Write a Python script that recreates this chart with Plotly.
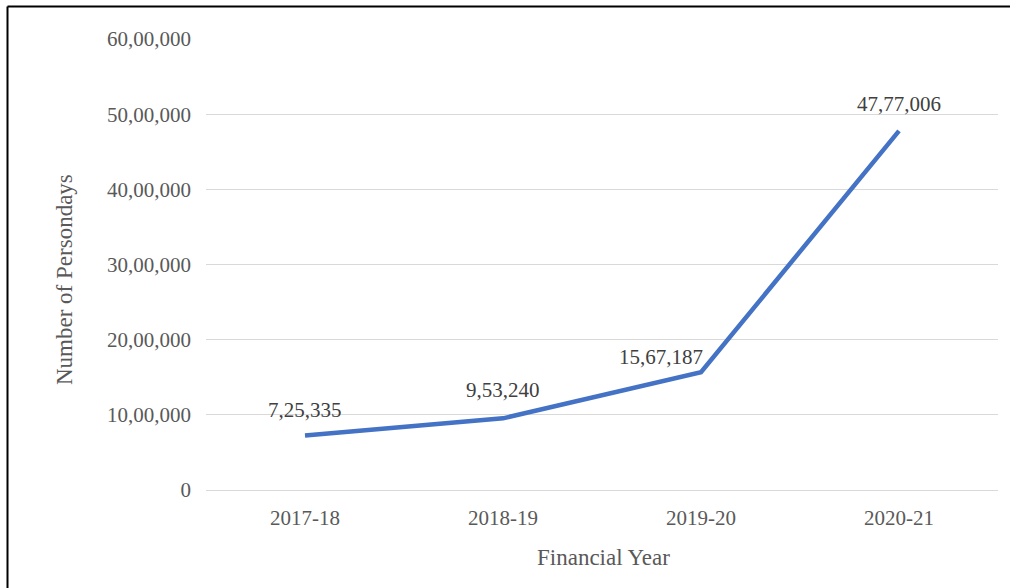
import plotly.graph_objects as go

# Persondays generated per financial year
years = ["2017-18", "2018-19", "2019-20", "2020-21"]
persondays = [725335, 953240, 1567187, 4777006]

# Y-axis ticks in Indian digit grouping
tick_values = [0, 1000000, 2000000, 3000000, 4000000, 5000000, 6000000]
tick_labels = ["0", "10,00,000", "20,00,000", "30,00,000", "40,00,000", "50,00,000", "60,00,000"]

# Data label offsets (pixels) per point
label_dx = [0, 0, -40, 0]
label_dy = [25, 28, 15, 27]


def indian_format(n):
    s = str(int(n))
    if len(s) <= 3:
        return s
    head, tail = s[:-3], s[-3:]
    groups = []
    while len(head) > 2:
        groups.insert(0, head[-2:])
        head = head[:-2]
    if head:
        groups.insert(0, head)
    return ",".join(groups) + "," + tail


FONT = "Liberation Serif, Times New Roman, serif"
FS = 21        # tick and data label size
FS_TITLE = 23  # axis title size

# Plot area geometry in pixels
L, R, T, B = 206, 12, 39, 98
PW, PH = 1010 - L - R, 588 - T - B


def px_to_paper_x(px):
    return (px - L) / PW


def px_to_paper_y(py):
    return (588 - B - py) / PH


fig = go.Figure()
fig.add_trace(go.Scatter(
    x=years,
    y=persondays,
    mode="lines",
    line=dict(color="#4472C4", width=4.5),
    hoverinfo="skip",
))

for yr, v, dx, dy in zip(years, persondays, label_dx, label_dy):
    fig.add_annotation(
        x=yr, y=v, text=indian_format(v), showarrow=False,
        xshift=dx, yshift=dy,
        font=dict(family=FONT, size=FS, color="#404040"),
    )

# Axis titles
fig.add_annotation(
    xref="paper", yref="paper",
    x=px_to_paper_x(603), y=px_to_paper_y(557),
    text="Financial Year", showarrow=False,
    xanchor="center", yanchor="middle",
    font=dict(family=FONT, size=FS_TITLE, color="#595959"),
)
fig.add_annotation(
    xref="paper", yref="paper",
    x=px_to_paper_x(64), y=px_to_paper_y(280),
    text="Number of Persondays", showarrow=False, textangle=-90,
    xanchor="center", yanchor="middle",
    font=dict(family=FONT, size=FS_TITLE, color="#595959"),
)

# Outer frame around the chart
fig.add_shape(
    type="line", xref="paper", yref="paper",
    x0=px_to_paper_x(7.5), x1=px_to_paper_x(1012),
    y0=px_to_paper_y(6.5), y1=px_to_paper_y(6.5),
    line=dict(color="black", width=2),
)
fig.add_shape(
    type="line", xref="paper", yref="paper",
    x0=px_to_paper_x(7.5), x1=px_to_paper_x(7.5),
    y0=px_to_paper_y(6.5), y1=px_to_paper_y(592),
    line=dict(color="black", width=2),
)

fig.update_layout(
    width=1010, height=588,
    margin=dict(l=L, r=R, t=T, b=B),
    paper_bgcolor="white", plot_bgcolor="white",
    showlegend=False,
    font=dict(family=FONT, size=FS, color="#595959"),
    xaxis=dict(
        type="category", range=[-0.5, 3.5],
        showgrid=False, showline=False, ticks="",
        ticklabelstandoff=13,
        tickfont=dict(family=FONT, size=FS, color="#595959"),
    ),
    yaxis=dict(
        range=[0, 6000000],
        tickvals=tick_values, ticktext=tick_labels,
        showgrid=True, gridcolor="#D9D9D9", gridwidth=1.3,
        zeroline=True, zerolinecolor="#D9D9D9", zerolinewidth=1.3,
        showline=False, ticks="", ticklabelstandoff=14,
        tickfont=dict(family=FONT, size=FS, color="#595959"),
    ),
)

fig.write_html("out.html")
